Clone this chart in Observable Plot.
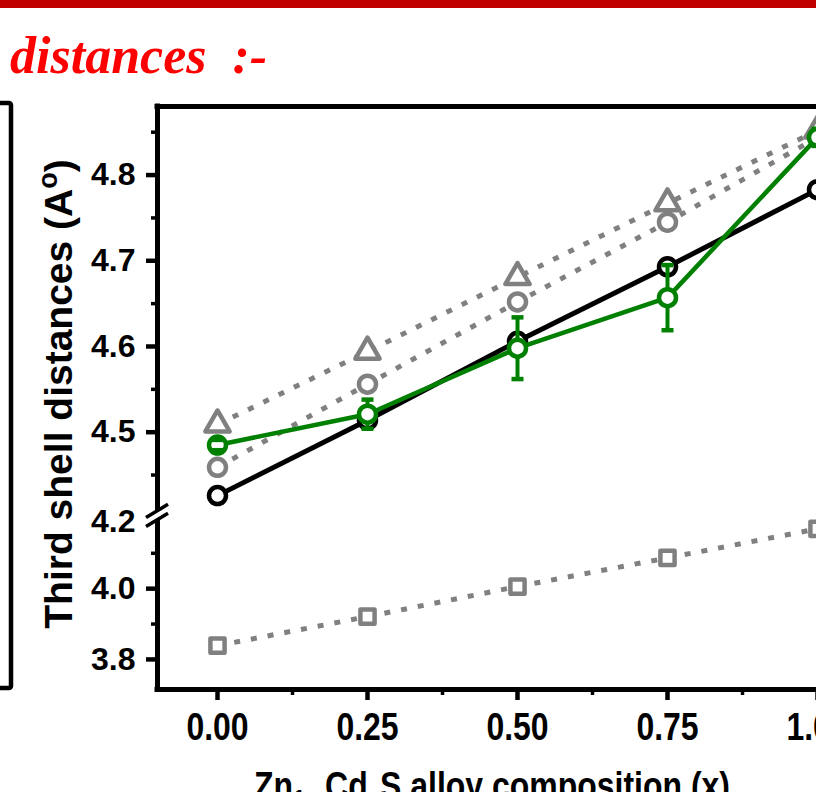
<!DOCTYPE html>
<html><head><meta charset="utf-8">
<script src="https://cdn.jsdelivr.net/npm/d3@7"></script>
<script src="https://cdn.jsdelivr.net/npm/@observablehq/plot@0.6"></script>
<style>
html,body{margin:0;padding:0;overflow:hidden;background:#fff;width:816px;height:792px;}
#chart{position:absolute;left:0;top:0;width:816px;height:792px;}
</style>
</head><body>
<div id="chart"></div>
<script>
// ---- data ----
const composition = [0, 0.25, 0.5, 0.75, 1.0];
const expDist  = [4.426, 4.514, 4.606, 4.693, 4.783];   // black open circles
const fitDist  = [4.485, 4.521, 4.598, 4.657, 4.844];   // green open circles
const fitErr   = [0.006, 0.017, 0.036, 0.038, 0.010];   // green error bars
const triDist  = [4.509, 4.594, 4.681, 4.767, 4.852];   // gray triangles
const circDist = [4.459, 4.556, 4.652, 4.745, 4.844];   // gray circles
const sqDist   = [3.839, 3.921, 4.006, 4.087, 4.169];   // gray squares
const yMajorTicks = [3.8, 4.0, 4.5, 4.6, 4.7, 4.8];
const yBreakTick  = [4.2];
const yMinorTicks = [3.9, 4.1, 4.45, 4.55, 4.65, 4.75, 4.85];
const xMajorTicks = [0, 0.25, 0.5, 0.75, 1.0];
const xMinorTicks = [0.125, 0.375, 0.625, 0.875];
const titleText = "distances  :-";

// broken axis: lower segment [3.715, 4.2], upper segment [4.4, 4.88]
const yLow = 3.715, yBreakLo = 4.2, yBreakHi = 4.4, yHigh = 4.88, lowRatio = 355 / 860;
const brokenY = v => v >= yBreakHi ? v : v <= yBreakLo ? yBreakHi - (yBreakLo - v) * lowRatio : yBreakHi;

const rows = composition.map((x, i) => ({x, exp: expDist[i], fit: fitDist[i], err: fitErr[i], tri: triDist[i], circ: circDist[i], sq: sqDist[i]}));

const GRAY = "#808080", GREEN = "#008000";
const SANS = "'Liberation Sans', Arial, Helvetica, sans-serif";
const dotted = {stroke: GRAY, strokeWidth: 5, strokeDasharray: "6,11", strokeLinecap: "butt"};
const capSymbol = {draw(ctx, size) { const w = Math.sqrt(size / Math.PI); ctx.moveTo(-w, 0); ctx.lineTo(w, 0); }};
const mk = {fill: "white", strokeWidth: 4.5, strokeLinejoin: "round"};

const plot = Plot.plot({
  width: 816, height: 792,
  marginLeft: 157, marginRight: 0, marginTop: 106, marginBottom: 103,
  style: {background: "transparent", overflow: "visible"},
  x: {domain: [-0.1, 1.1], range: [157, 877], axis: null, label: null},
  y: {transform: brokenY, domain: [brokenY(yLow), yHigh], range: [689, 106], axis: null, label: null},
  marks: [
    Plot.ruleX([-0.1], {y1: yLow, y2: yHigh, stroke: "black", strokeWidth: 5, strokeLinecap: "square"}),
    Plot.ruleY([yLow], {x1: -0.1, x2: 1.1, stroke: "black", strokeWidth: 5, strokeLinecap: "square"}),
    Plot.ruleY([yHigh], {x1: -0.1, x2: 1.1, stroke: "black", strokeWidth: 5, strokeLinecap: "square"}),
    Plot.axisY(yMinorTicks, {anchor: "left", tickSize: 6, strokeWidth: 3.5, tickFormat: () => "", label: null}),
    Plot.axisY(yMajorTicks, {anchor: "left", tickSize: 11, tickPadding: 11, strokeWidth: 4.5, tickFormat: d3.format(".1f"), fontSize: 32, fontWeight: "bold", fontFamily: SANS, label: null}),
    Plot.axisY(yBreakTick, {anchor: "left", tickSize: 0, tickPadding: 22, dy: 4, tickFormat: d3.format(".1f"), fontSize: 32, fontWeight: "bold", fontFamily: SANS, label: null}),
    Plot.axisX(xMinorTicks, {anchor: "bottom", tickSize: 6, strokeWidth: 3.5, tickFormat: () => "", label: null}),
    Plot.axisX(xMajorTicks, {anchor: "bottom", tickSize: 11, tickPadding: 12, strokeWidth: 4.5, tickFormat: d3.format(".2f"), fontSize: 39, fontWeight: "bold", fontFamily: SANS, label: null}),
    Plot.line(rows, {x: "x", y: "sq", ...dotted}),
    Plot.line(rows, {x: "x", y: "circ", ...dotted}),
    Plot.line(rows, {x: "x", y: "tri", ...dotted}),
    Plot.dot(rows, {x: "x", y: "sq", symbol: "square", r: 8, stroke: GRAY, ...mk}),
    Plot.dot(rows, {x: "x", y: "circ", symbol: "circle", r: 8.5, stroke: GRAY, ...mk}),
    Plot.dot(rows, {x: "x", y: "tri", symbol: "triangle", r: 9, stroke: GRAY, ...mk}),
    Plot.line(rows, {x: "x", y: "exp", stroke: "black", strokeWidth: 5}),
    Plot.dot(rows, {x: "x", y: "exp", symbol: "circle", r: 8.5, stroke: "black", ...mk}),
    Plot.line(rows, {x: "x", y: "fit", stroke: GREEN, strokeWidth: 4.5}),
    Plot.ruleX(rows, {x: "x", y1: d => d.fit - d.err, y2: d => d.fit + d.err, stroke: GREEN, strokeWidth: 4}),
    Plot.dot(rows, {x: "x", y: "fit", symbol: "circle", r: 8.5, stroke: GREEN, ...mk}),
    Plot.dot(rows, {x: "x", y: d => d.fit - d.err, symbol: capSymbol, r: 6, stroke: GREEN, strokeWidth: 4.5, fill: "none"}),
    Plot.dot(rows, {x: "x", y: d => d.fit + d.err, symbol: capSymbol, r: 6, stroke: GREEN, strokeWidth: 4.5, fill: "none"})
  ]
});
document.getElementById("chart").appendChild(plot);

const svg = d3.select(plot);
const xs = plot.scale("x"), ys = plot.scale("y");
const cx = xs.apply(-0.1), cy = ys.apply(brokenY(yBreakLo)) - 2;

// narrow (condensed) look for x tick labels
svg.selectAll('g[aria-label="x-axis tick label"] text').each(function () {
  const t = d3.select(this);
  const tr = t.attr("transform") || "";
  t.attr("transform", `${tr} scale(0.82,1)`);
});

// axis break marks
const brk = svg.append("g");
const s = -0.6, hw = 11, off = 4.5;
brk.append("polygon").attr("fill", "white")
  .attr("points", [[cx - 5, cy - off - 5 * s], [cx + 5, cy - off + 5 * s], [cx + 5, cy + off + 5 * s], [cx - 5, cy + off - 5 * s]].map(p => p.join(",")).join(" "));
for (const o of [-off, off]) {
  brk.append("line").attr("x1", cx - hw).attr("y1", cy + o - hw * s).attr("x2", cx + hw).attr("y2", cy + o + hw * s)
    .attr("stroke", "black").attr("stroke-width", 3.5);
}

// slide decorations: top bar, title, neighbouring frame
svg.append("rect").attr("x", 0).attr("y", 0).attr("width", 816).attr("height", 8).attr("fill", "#c00000");
svg.append("text").attr("x", 10).attr("y", 73).attr("fill", "#ff0000").attr("text-anchor", "start")
  .attr("font-family", "'Liberation Serif', 'Times New Roman', serif").attr("font-size", 52)
  .attr("font-style", "italic").attr("font-weight", "bold").style("white-space", "pre").text(titleText);
svg.append("rect").attr("x", -30).attr("y", 103).attr("width", 41).attr("height", 585).attr("rx", 2)
  .attr("fill", "none").attr("stroke", "black").attr("stroke-width", 4.5);

// axis titles
const yt = svg.append("text").attr("transform", "translate(72,394) rotate(-90)").attr("text-anchor", "middle")
  .attr("font-family", SANS).attr("font-weight", "bold").attr("font-size", 39).attr("fill", "black");
yt.append("tspan").text("Third shell distances (A");
yt.append("tspan").attr("dy", -15).attr("font-size", 27).text("o");
yt.append("tspan").attr("dy", 15).text(")");

const xt = svg.append("text").attr("transform", "translate(492,799) scale(0.82,1)").attr("text-anchor", "middle")
  .attr("font-family", SANS).attr("font-weight", "bold").attr("font-size", 39).attr("fill", "black");
xt.append("tspan").text("Zn");
xt.append("tspan").attr("dy", 10).attr("font-size", 27).text("1-x");
xt.append("tspan").attr("dy", -10).text("Cd");
xt.append("tspan").attr("dy", 10).attr("font-size", 27).text("x");
xt.append("tspan").attr("dy", -10).text("S alloy composition (x)");
</script>
</body></html>
